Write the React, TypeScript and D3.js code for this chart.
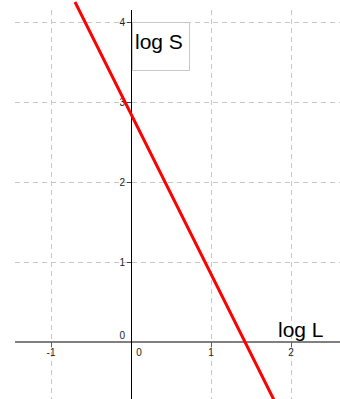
import * as d3 from "d3";
import { useEffect, useRef } from "react";

// data
const xTicks = [-1, 0, 1, 2];
const yTicks = [0, 1, 2, 3, 4];
const lineLogL = [-0.7, 1.8];
const intercept = 2.85;
const slope = -2;
const xLabel = "log L";
const yLabel = "log S";

const width = 340;
const height = 399;

const App = () => {
  const ref = useRef<SVGSVGElement>(null);

  useEffect(() => {
    const svg = d3.select(ref.current);
    svg.selectAll("*").remove();

    const x = d3.scaleLinear().domain([-1, 2]).range([51, 291]);
    const y = d3.scaleLinear().domain([0, 4]).range([342, 22]);

    const top = 10;
    const left = 15;
    const fontFam = "Liberation Sans, Arial, sans-serif";

    // grid
    const grid = svg.append("g")
      .attr("stroke", "#c8c8c8")
      .attr("stroke-width", 1)
      .attr("stroke-dasharray", "5,4");
    grid.selectAll("line.v")
      .data(xTicks.filter(d => d !== 0))
      .enter().append("line")
      .attr("x1", d => x(d) + 0.5).attr("x2", d => x(d) + 0.5)
      .attr("y1", top).attr("y2", height);
    grid.selectAll("line.h")
      .data(yTicks.filter(d => d !== 0))
      .enter().append("line")
      .attr("x1", left).attr("x2", width)
      .attr("y1", d => y(d) + 0.5).attr("y2", d => y(d) + 0.5);

    // y label box (behind the axis)
    svg.append("rect")
      .attr("x", x(0) + 1.5).attr("y", y(4) + 0.5)
      .attr("width", 57).attr("height", 48)
      .attr("fill", "#fff")
      .attr("stroke", "#c8c8c8");

    // axes
    svg.append("line")
      .attr("x1", left).attr("x2", width)
      .attr("y1", y(0)).attr("y2", y(0))
      .attr("stroke", "#808080").attr("stroke-width", 2);
    svg.append("line")
      .attr("x1", x(0) + 0.5).attr("x2", x(0) + 0.5)
      .attr("y1", top).attr("y2", height)
      .attr("stroke", "#000").attr("stroke-width", 1);

    // ticks
    svg.selectAll("line.xt")
      .data(xTicks.filter(d => d !== 0))
      .enter().append("line")
      .attr("x1", d => x(d) + 0.5).attr("x2", d => x(d) + 0.5)
      .attr("y1", y(0)).attr("y2", y(0) + 5)
      .attr("stroke", "#606060");
    svg.selectAll("line.yt")
      .data(yTicks.filter(d => d !== 0))
      .enter().append("line")
      .attr("x1", x(0) - 4).attr("x2", x(0))
      .attr("y1", d => y(d) + 0.5).attr("y2", d => y(d) + 0.5)
      .attr("stroke", "#404040");

    svg.selectAll("text.xl")
      .data(xTicks)
      .enter().append("text")
      .attr("x", d => (d === 0 ? x(d) + 8 : x(d)))
      .attr("y", y(0) + 14)
      .attr("text-anchor", "middle")
      .attr("font-family", fontFam)
      .attr("font-size", 10)
      .attr("fill", "#222")
      .text(d => d);
    svg.selectAll("text.yl")
      .data(yTicks)
      .enter().append("text")
      .attr("x", x(0) - 6)
      .attr("y", d => (d === 0 ? y(d) - 3 : y(d) + 4))
      .attr("text-anchor", "end")
      .attr("font-family", fontFam)
      .attr("font-size", 10)
      .attr("fill", "#222")
      .text(d => d);

    // red line
    const line = d3.line<number>()
      .x(d => x(d))
      .y(d => y(intercept + slope * d));
    svg.append("path")
      .datum(lineLogL)
      .attr("d", line)
      .attr("fill", "none")
      .attr("stroke", "#ff0000")
      .attr("stroke-width", 3);

    // axis labels
    svg.append("text")
      .attr("x", x(0) + 4).attr("y", y(4) + 27)
      .attr("font-family", fontFam)
      .attr("font-size", 21)
      .attr("fill", "#000")
      .text(yLabel);
    svg.append("text")
      .attr("x", 278).attr("y", y(0) - 5)
      .attr("font-family", fontFam)
      .attr("font-size", 21)
      .attr("fill", "#000")
      .text(xLabel);
  }, []);

  return (
    <svg
      ref={ref}
      width={width}
      height={height}
      style={{ position: "absolute", left: 0, top: 0, background: "#fff" }}
    />
  );
};

export default App;
